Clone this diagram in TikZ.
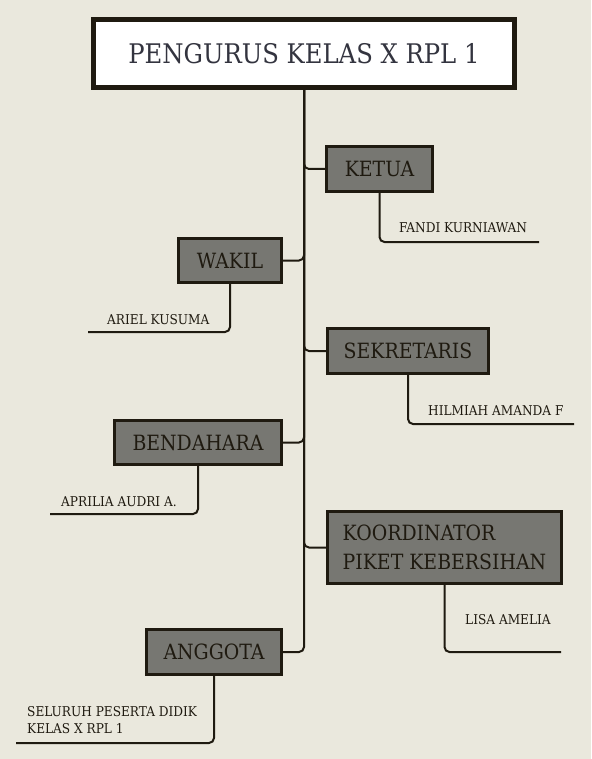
\documentclass[tikz,border=0pt]{standalone}
\usepackage{fontspec}
\setmainfont{DejaVu Serif Condensed}
\usepackage{tikz}
\definecolor{paper}{HTML}{EAE8DD}
\definecolor{boxgray}{HTML}{777772}
\definecolor{ink}{HTML}{1F1A10}
\definecolor{titleink}{HTML}{33343F}
\tikzset{
    role/.style={draw=ink, fill=boxgray, line width=3pt, inner sep=0pt, text=ink, font=\fontsize{21}{29}\selectfont}, % kotak jabatan
    person/.style={inner sep=0pt, anchor=west, text=ink, font=\fontsize{13.5}{17}\selectfont}, % nama pengurus
    link/.style={draw=ink, line width=2pt, rounded corners=5pt} % garis penghubung
}

\begin{document}
\begin{tikzpicture}[x=1pt, y=-1pt]
            \fill[paper] (0,0) rectangle (591,759);
            \useasboundingbox (0,0) rectangle (591,759);

            \node[draw=ink, fill=white, line width=5pt, minimum width=421pt, minimum height=68pt, inner sep=0pt, text=titleink, font=\fontsize{27}{32}\selectfont] (title) at (304,53.5) {PENGURUS KELAS X RPL 1};

            \node[role, minimum width=106pt, minimum height=45pt] (ketua) at (379.5,169) {KETUA};
            \node[role, minimum width=103pt, minimum height=44pt] (wakil) at (230,260.5) {WAKIL};
            \node[role, minimum width=161pt, minimum height=45pt] (sekretaris) at (408,351) {SEKRETARIS};
            \node[role, minimum width=167pt, minimum height=44pt] (bendahara) at (198,442.5) {BENDAHARA};
            \node[role, minimum width=234pt, minimum height=72pt, align=left] (koordinator) at (444.5,547.5) {KOORDINATOR\\PIKET KEBERSIHAN};
            \node[role, minimum width=135pt, minimum height=45pt] (anggota) at (214,652) {ANGGOTA};

            \foreach \r in {ketua, wakil, sekretaris, bendahara, koordinator, anggota} {\draw[link] (title.south) |- (\r);}

            \node[person] (fandi) at (399,228) {FANDI KURNIAWAN};
            \node[person] (ariel) at (107,320) {ARIEL KUSUMA};
            \node[person] (hilmiah) at (428,411) {HILMIAH AMANDA F};
            \node[person] (aprilia) at (61,502) {APRILIA AUDRI A.};
            \node[person] (lisa) at (465,620) {LISA AMELIA};
            \node[person, align=left] (seluruh) at (27,720.5) {SELURUH PESERTA DIDIK\\KELAS X RPL 1};

            \coordinate (fandiend) at (539,242);
            \coordinate (arielend) at (88,332);
            \coordinate (hilmiahend) at (574,424);
            \coordinate (apriliaend) at (50,514);
            \coordinate (lisaend) at (561,652);
            \coordinate (seluruhend) at (16,743);

            \draw[link] (ketua.south) |- (fandiend);
            \draw[link] (wakil.south) |- (arielend);
            \draw[link] (sekretaris.south) |- (hilmiahend);
            \draw[link] (bendahara.south) |- (apriliaend);
            \draw[link] (koordinator.south) |- (lisaend);
            \draw[link] (anggota.south) |- (seluruhend);
        \end{tikzpicture}
\end{document}
